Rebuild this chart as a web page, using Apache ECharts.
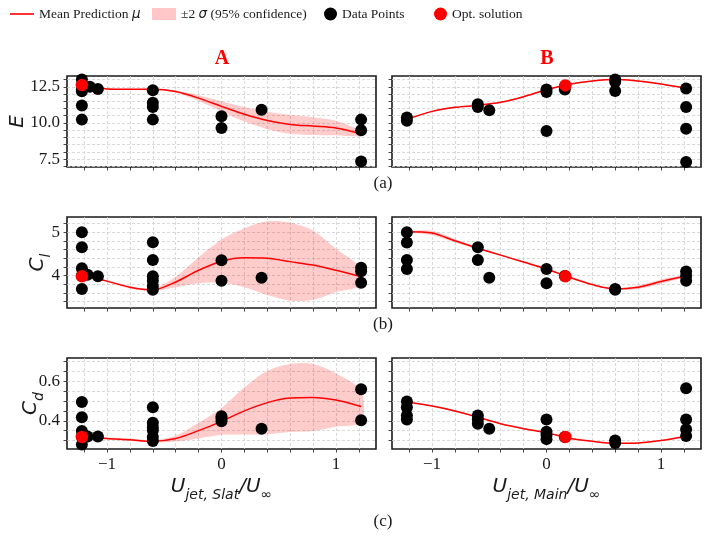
<!DOCTYPE html>
<html>
<head>
<meta charset="utf-8">
<script src="https://cdn.jsdelivr.net/npm/echarts@6/dist/echarts.min.js"></script>
<style>
  html, body { margin: 0; padding: 0; background: #fff; }
  #chart { width: 714px; height: 537px; }
</style>
</head>
<body>
<div id="chart"></div>
<script>
// x positions where the GP curves were read
var curveX = [-1.22, -1.0, -0.8, -0.6, -0.4, -0.2, 0, 0.2, 0.4, 0.6, 0.8, 1.0, 1.22];

// A: slat jet sweep
var slatE_mean  = [12.55, 12.35, 12.33, 12.33, 12.17, 11.72, 11.15, 10.6, 10.17, 9.9, 9.78, 9.65, 9.25];
var slatE_w     = [0.01, 0.02, 0.03, 0.03, 0.08, 0.2, 0.35, 0.5, 0.6, 0.65, 0.62, 0.5, 0.17];
var slatCl_mean = [4.0, 3.87, 3.73, 3.67, 3.85, 4.12, 4.33, 4.41, 4.4, 4.32, 4.24, 4.12, 3.97];
var slatCl_w    = [0.01, 0.02, 0.03, 0.03, 0.12, 0.3, 0.5, 0.68, 0.85, 0.9, 0.8, 0.5, 0.2];
var slatCd_mean = [0.32, 0.31, 0.304, 0.296, 0.31, 0.35, 0.397, 0.45, 0.492, 0.515, 0.518, 0.505, 0.472];
var slatCd_w    = [0.003, 0.005, 0.006, 0.006, 0.015, 0.04, 0.068, 0.12, 0.16, 0.172, 0.17, 0.135, 0.08];

// B: main jet sweep
var mainE_mean  = [10.25, 10.8, 11.08, 11.22, 11.43, 11.82, 12.3, 12.68, 12.9, 13.0, 12.9, 12.7, 12.4];
var mainE_w     = [0.04, 0.04, 0.04, 0.03, 0.04, 0.05, 0.04, 0.03, 0.04, 0.05, 0.06, 0.05, 0.03];
var mainCl_mean = [5.01, 4.98, 4.8, 4.63, 4.47, 4.31, 4.15, 3.96, 3.79, 3.69, 3.73, 3.86, 3.99];
var mainCl_w    = [0.01, 0.05, 0.04, 0.02, 0.02, 0.02, 0.02, 0.02, 0.02, 0.02, 0.04, 0.05, 0.02];
var mainCd_mean = [0.495, 0.475, 0.45, 0.418, 0.385, 0.36, 0.34, 0.312, 0.296, 0.286, 0.288, 0.3, 0.322];
var mainCd_w    = [0.003, 0.003, 0.003, 0.003, 0.003, 0.003, 0.003, 0.003, 0.003, 0.003, 0.003, 0.003, 0.003];

// data points
var slatE_x  = [-1.22, -1.22, -1.22, -1.22, -1.22, -1.22, -1.15, -1.08, -0.6, -0.6, -0.6, -0.6, 0, 0, 0.35, 1.22, 1.22, 1.22];
var slatE_y  = [13.0, 12.62, 12.3, 12.2, 11.2, 10.23, 12.5, 12.35, 12.26, 11.39, 11.11, 10.23, 10.46, 9.65, 10.92, 10.23, 9.49, 7.33];
var mainE_x  = [-1.22, -1.22, -0.6, -0.6, -0.5, 0, 0, 0, 0.16, 0.16, 0.6, 0.6, 0.6, 1.22, 1.22, 1.22, 1.22];
var mainE_y  = [10.38, 10.16, 11.3, 11.1, 10.88, 12.31, 12.15, 9.45, 12.5, 12.31, 13.0, 12.84, 12.21, 12.38, 11.1, 9.6, 7.3];
var slatCl_x = [-1.22, -1.22, -1.22, -1.22, -1.22, -1.17, -1.08, -0.6, -0.6, -0.6, -0.6, -0.6, -0.6, 0, 0, 0.35, 1.22, 1.22, 1.22];
var slatCl_y = [5.0, 4.65, 4.17, 4.0, 3.69, 4.02, 3.98, 4.77, 4.36, 3.98, 3.88, 3.76, 3.67, 4.35, 3.88, 3.95, 4.18, 4.1, 3.83];
var mainCl_x = [-1.22, -1.22, -1.22, -1.22, -0.6, -0.6, -0.5, 0, 0, 0.16, 0.6, 0.6, 1.22, 1.22, 1.22];
var mainCl_y = [5.0, 4.76, 4.36, 4.15, 4.65, 4.36, 3.95, 4.15, 3.82, 3.99, 3.69, 3.67, 4.09, 3.99, 3.88];
var slatCd_x = [-1.22, -1.22, -1.22, -1.22, -1.22, -1.17, -1.08, -0.6, -0.6, -0.6, -0.6, -0.6, -0.6, 0, 0, 0, 0.35, 1.22, 1.22];
var slatCd_y = [0.495, 0.418, 0.348, 0.322, 0.28, 0.32, 0.32, 0.468, 0.39, 0.368, 0.352, 0.318, 0.298, 0.423, 0.411, 0.398, 0.36, 0.56, 0.403];
var mainCd_x = [-1.22, -1.22, -1.22, -1.22, -0.6, -0.6, -0.6, -0.5, 0, 0, 0, 0, 0.16, 0.6, 0.6, 1.22, 1.22, 1.22, 1.22];
var mainCd_y = [0.498, 0.468, 0.427, 0.406, 0.427, 0.407, 0.385, 0.36, 0.406, 0.345, 0.328, 0.307, 0.318, 0.3, 0.287, 0.565, 0.406, 0.357, 0.323];

// optimum solution (red)
var optSlat = [-1.22, 12.62, 3.98, 0.318];
var optMain = [0.165, 12.6, 3.98, 0.318];

// ticks
var xTicks  = [-1.2, -1.0, -0.8, -0.6, -0.4, -0.2, 0, 0.2, 0.4, 0.6, 0.8, 1.0, 1.2];
var xLabels = [-1, 0, 1];
var eTicks  = [7.0, 7.5, 8.0, 8.5, 9.0, 9.5, 10.0, 10.5, 11.0, 11.5, 12.0, 12.5, 13.0];
var eLabels = [7.5, 10.0, 12.5];
var clTicks = [3.4, 3.6, 3.8, 4.0, 4.2, 4.4, 4.6, 4.8, 5.0, 5.2];
var clLabels = [4, 5];
var cdTicks = [0.3, 0.35, 0.4, 0.45, 0.5, 0.55, 0.6, 0.65, 0.7];
var cdLabels = [0.4, 0.6];

var serif = 'Liberation Serif';
var mathFont = 'DejaVu Sans';
var txt = '#1a1a1a';

var lefts = [67, 392];
var tops = [76, 217, 358];
var gw = 309, gh = 91;

var rows = [
  {min: 6.95, max: 13.25, ticks: eTicks, labels: eLabels, fmt: function (v) { return v.toFixed(1); },
   name: '{i|E}', gap: 35},
  {min: 3.25, max: 5.35, ticks: clTicks, labels: clLabels, fmt: function (v) { return String(v); },
   name: '{i|C}{s|l}', gap: 15},
  {min: 0.257, max: 0.718, ticks: cdTicks, labels: cdLabels, fmt: function (v) { return v.toFixed(1); },
   name: '{i|C}{s|d}', gap: 22}
];

var panels = [
  [{mean: slatE_mean, w: slatE_w, px: slatE_x, py: slatE_y, opt: [optSlat[0], optSlat[1]]},
   {mean: mainE_mean, w: mainE_w, px: mainE_x, py: mainE_y, opt: [optMain[0], optMain[1]]}],
  [{mean: slatCl_mean, w: slatCl_w, px: slatCl_x, py: slatCl_y, opt: [optSlat[0], optSlat[2]]},
   {mean: mainCl_mean, w: mainCl_w, px: mainCl_x, py: mainCl_y, opt: [optMain[0], optMain[2]]}],
  [{mean: slatCd_mean, w: slatCd_w, px: slatCd_x, py: slatCd_y, opt: [optSlat[0], optSlat[3]]},
   {mean: mainCd_mean, w: mainCd_w, px: mainCd_x, py: mainCd_y, opt: [optMain[0], optMain[3]]}]
];

var gridLine = {show: true, lineStyle: {color: '#cfcfcf', width: 0.8, type: [3, 2]}};
var mathRich = {
  i: {fontFamily: mathFont, fontStyle: 'italic', fontSize: 20, color: txt, verticalAlign: 'top', lineHeight: 24},
  s: {fontFamily: mathFont, fontStyle: 'italic', fontSize: 14, color: txt, verticalAlign: 'top', lineHeight: 16, padding: [11, 0, 0, 0]}
};

// confidence band: polygon between mean-w and mean+w, placed through the axes
function bandSeries(k, mean, w) {
  return {
    name: '\u00b12\u03c3', type: 'custom', xAxisIndex: k, yAxisIndex: k,
    data: [[curveX[0], mean[0]]], clip: true, silent: true, z: 1,
    itemStyle: {color: 'rgba(255,0,0,0.2)'},
    renderItem: function (params, api) {
      var up = [], lo = [];
      for (var i = 0; i < curveX.length; i++) {
        up.push(api.coord([curveX[i], mean[i] + w[i]]));
        lo.push(api.coord([curveX[i], mean[i] - w[i]]));
      }
      return {
        type: 'polygon',
        shape: {points: up.concat(lo.reverse()), smooth: 0.3},
        style: {fill: 'rgba(255,0,0,0.2)', stroke: null}
      };
    }
  };
}

var grids = [], xAxes = [], yAxes = [], series = [];
var k = 0;
for (var r = 0; r < 3; r++) {
  for (var c = 0; c < 2; c++) {
    var row = rows[r], p = panels[r][c];
    grids.push({left: lefts[c], top: tops[r], width: gw, height: gh, show: true,
      borderColor: '#1a1a1a', borderWidth: 1.6, backgroundColor: '#fff'});
    var bottomRow = r === 2;
    xAxes.push({
      type: 'value', gridIndex: k, min: -1.35, max: 1.35,
      axisLine: {show: false, onZero: false},
      axisTick: {show: true, length: 3.5, lineStyle: {color: txt, width: 0.8}, customValues: xTicks},
      axisLabel: {show: bottomRow, customValues: xLabels, margin: 7, fontFamily: serif, fontSize: 17, color: txt,
        formatter: function (v) { return String(v).replace('-', '\u2212'); }},
      splitLine: gridLine,
      name: bottomRow ? (c === 0 ? '{i|U}{s|jet, Slat}{i|/U}{s|\u221e}' : '{i|U}{s|jet, Main}{i|/U}{s|\u221e}') : '',
      nameLocation: 'middle', nameGap: 28, nameMoveOverlap: false,
      nameTextStyle: {rich: mathRich}
    });
    yAxes.push({
      type: 'value', gridIndex: k, min: row.min, max: row.max,
      axisLine: {show: false, onZero: false},
      axisTick: {show: true, length: 3.5, lineStyle: {color: txt, width: 0.8}, customValues: row.ticks},
      axisLabel: {show: c === 0, customValues: row.labels, margin: 7, fontFamily: serif, fontSize: 17, color: txt,
        formatter: row.fmt},
      splitLine: gridLine,
      name: c === 0 ? row.name : '',
      nameLocation: 'middle', nameGap: row.gap, nameRotate: 90, nameMoveOverlap: false,
      nameTextStyle: {rich: mathRich}
    });

    var meanPts = curveX.map(function (x, i) { return [x, p.mean[i]]; });
    var pts = p.px.map(function (x, i) { return [x, p.py[i]]; });

    series.push(bandSeries(k, p.mean, p.w));
    series.push({
      name: 'Mean Prediction', type: 'line', xAxisIndex: k, yAxisIndex: k,
      data: meanPts, smooth: 0.3, symbol: 'none', itemStyle: {color: '#ff0000'},
      lineStyle: {color: '#ff0000', width: 1.5}, z: 3
    });
    series.push({
      name: 'Data Points', type: 'scatter', xAxisIndex: k, yAxisIndex: k,
      data: pts, symbolSize: 12, itemStyle: {color: '#000', opacity: 1}, z: 4
    });
    series.push({
      name: 'Opt. solution', type: 'scatter', xAxisIndex: k, yAxisIndex: k,
      data: [p.opt], symbolSize: 12.5, itemStyle: {color: '#ff0000', opacity: 1}, z: 5
    });
    k++;
  }
}

var legText = {fontFamily: serif, fontSize: 13.5, color: txt,
  rich: {t: {fontFamily: serif, fontSize: 13.5, color: txt},
         m: {fontFamily: mathFont, fontStyle: 'italic', fontSize: 13.5, color: txt}}};

var titleText = {fontFamily: serif, fontWeight: 'normal', fontSize: 17, color: txt};
var option = {
  animation: false,
  backgroundColor: '#fff',
  title: [
    {text: 'A', left: 222, top: 49, textAlign: 'center', padding: 0,
      textStyle: {fontFamily: serif, fontWeight: 'bold', fontSize: 20, color: '#ff0000'}},
    {text: 'B', left: 547, top: 49, textAlign: 'center', padding: 0,
      textStyle: {fontFamily: serif, fontWeight: 'bold', fontSize: 20, color: '#ff0000'}},
    {text: '(a)', left: 383, top: 175, textAlign: 'center', padding: 0, textStyle: titleText},
    {text: '(b)', left: 383, top: 316, textAlign: 'center', padding: 0, textStyle: titleText},
    {text: '(c)', left: 383, top: 513, textAlign: 'center', padding: 0, textStyle: titleText}
  ],
  legend: [
    {left: 10, top: 7, padding: 0, selectedMode: false, itemWidth: 24, itemHeight: 1.6,
      data: [{name: 'Mean Prediction', icon: 'rect', itemStyle: {color: '#ff0000', borderWidth: 0}}],
      formatter: function () { return '{t|Mean Prediction }{m|\u03bc}'; }, textStyle: legText},
    {left: 152, top: 7, padding: 0, selectedMode: false, itemWidth: 24, itemHeight: 12,
      data: [{name: '\u00b12\u03c3', icon: 'rect', itemStyle: {color: 'rgba(255,0,0,0.22)', borderWidth: 0}}],
      formatter: function () { return '{t|\u00b12 }{m|\u03c3}{t| (95% confidence)}'; }, textStyle: legText},
    {left: 324, top: 7, padding: 0, selectedMode: false, itemWidth: 13, itemHeight: 13,
      data: [{name: 'Data Points', icon: 'circle', itemStyle: {color: '#000', borderWidth: 0}}], textStyle: legText},
    {left: 434, top: 7, padding: 0, selectedMode: false, itemWidth: 13, itemHeight: 13,
      data: [{name: 'Opt. solution', icon: 'circle', itemStyle: {color: '#ff0000', borderWidth: 0}}], textStyle: legText}
  ],
  grid: grids,
  xAxis: xAxes,
  yAxis: yAxes,
  series: series
};

var myChart = echarts.init(document.getElementById('chart'));
myChart.setOption(option);
</script>
</body>
</html>
